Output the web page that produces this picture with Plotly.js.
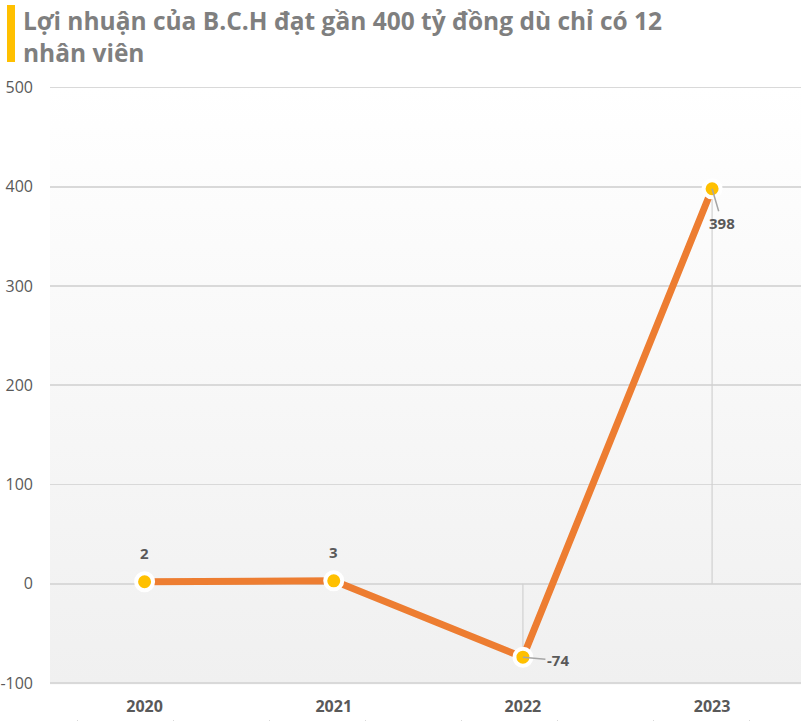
<!DOCTYPE html>
<html>
<head>
<meta charset="utf-8">
<script src="https://cdn.plot.ly/plotly-3.0.1.min.js"></script>
<style>html,body{margin:0;padding:0;background:#fff;}#chart{width:801px;height:721px;}</style>
</head>
<body>
<div id="chart"></div>
<script>
// Data
const years = ['2020', '2021', '2022', '2023'];
const profit = [2, 3, -74, 398];
const yTicks = [-100, 0, 100, 200, 300, 400, 500];
const titleLines = ['Lợi nhuận của B.C.H đạt gần 400 tỷ đồng dù chỉ có 12', 'nhân viên'];

const lineColor = '#ED7D31';
const markerColor = '#FFC000';
const textColor = '#595959';
const gridColor = '#d9d9d9';

const dropTrace = {
  x: years, y: profit, type: 'scatter', mode: 'markers',
  marker: {size: 1, color: 'rgba(0,0,0,0)'},
  hoverinfo: 'skip', showlegend: false,
  error_y: {
    type: 'data', symmetric: false,
    array: profit.map(v => v < 0 ? -v : 0),
    arrayminus: profit.map(v => v > 0 ? v : 0),
    width: 0, thickness: 1.2, color: '#d0d0d0'
  }
};

const mainTrace = {
  x: years, y: profit, type: 'scatter', mode: 'lines+markers',
  line: {color: lineColor, width: 7},
  marker: {size: 17, color: markerColor, line: {color: '#ffffff', width: 4}},
  showlegend: false
};

// empty trace so the bottom minor-tick axis is drawn
const tickAxisTrace = {x: [], y: [], xaxis: 'x2', type: 'scatter', mode: 'markers', showlegend: false, hoverinfo: 'skip'};

const labelFont = {family: 'Open Sans, sans-serif', size: 15, color: textColor, weight: 'bold'};
const offsets = [
  {showarrow: false, yshift: 29},
  {showarrow: false, yshift: 29},
  {showarrow: true, ax: 35, ay: 3},
  {showarrow: true, ax: 10, ay: 34}
];
const annotations = years.map((yr, i) => Object.assign({
  x: i, y: profit[i], xref: 'x', yref: 'y', text: String(profit[i]),
  font: labelFont, arrowhead: 0, arrowwidth: 1.5, arrowcolor: '#a6a6a6', standoff: 0
}, offsets[i]));

annotations.push({
  xref: 'paper', yref: 'paper', x: (21 - 50) / 751, y: (719 - 2) / 633,
  xanchor: 'left', yanchor: 'top', align: 'left', showarrow: false,
  text: titleLines.join('<br>'),
  font: {family: 'Open Sans, sans-serif', size: 24.5, color: '#7f7f7f', weight: 'bold'}
});

const gradSvg = '<svg xmlns="http://www.w3.org/2000/svg" width="10" height="100" preserveAspectRatio="none"><defs><linearGradient id="g" x1="0" y1="0" x2="0" y2="1"><stop offset="0" stop-color="#ffffff"/><stop offset="1" stop-color="#f0f0f0"/></linearGradient></defs><rect width="10" height="100" fill="url(#g)"/></svg>';

const layout = {
  width: 801, height: 721,
  margin: {l: 50, r: 0, t: 86, b: 2},
  paper_bgcolor: '#ffffff',
  plot_bgcolor: 'rgba(0,0,0,0)',
  xaxis: {
    type: 'category', range: [-0.5, 3.47],
    showgrid: false, zeroline: false, showline: false, ticks: '',
    tickfont: {family: 'Open Sans, sans-serif', size: 16, color: textColor, weight: 'bold'},
    ticklabelstandoff: 10, fixedrange: true
  },
  xaxis2: {
    overlaying: 'x', anchor: 'free', position: 0, range: [0, 751],
    tick0: 27, dtick: 96, ticks: 'outside', ticklen: 5, tickcolor: gridColor, tickwidth: 1,
    showticklabels: false, showgrid: false, zeroline: false, showline: false, fixedrange: true
  },
  yaxis: {
    domain: [34.5 / 633, 1], range: [-101.5, 501.5],
    tickvals: yTicks, ticktext: yTicks.map(String),
    showgrid: true, gridcolor: gridColor, gridwidth: 1.6,
    zeroline: false, showline: false, ticks: '',
    tickfont: {family: 'Open Sans, sans-serif', size: 16, color: textColor},
    ticklabelstandoff: 16, fixedrange: true
  },
  images: [{
    source: 'data:image/svg+xml;charset=utf-8,' + encodeURIComponent(gradSvg),
    xref: 'x domain', yref: 'y domain', x: 0, y: 1, sizex: 1, sizey: 1,
    xanchor: 'left', yanchor: 'top', sizing: 'stretch', layer: 'below'
  }],
  shapes: [{
    type: 'rect', xref: 'paper', yref: 'paper',
    x0: (7 - 50) / 751, x1: (15 - 50) / 751,
    y0: (719 - 62) / 633, y1: (719 - 5) / 633,
    fillcolor: markerColor, line: {width: 0}
  }],
  annotations: annotations,
  showlegend: false
};

Plotly.newPlot('chart', [dropTrace, mainTrace, tickAxisTrace], layout, {displayModeBar: false, staticPlot: true});
</script>
</body>
</html>
